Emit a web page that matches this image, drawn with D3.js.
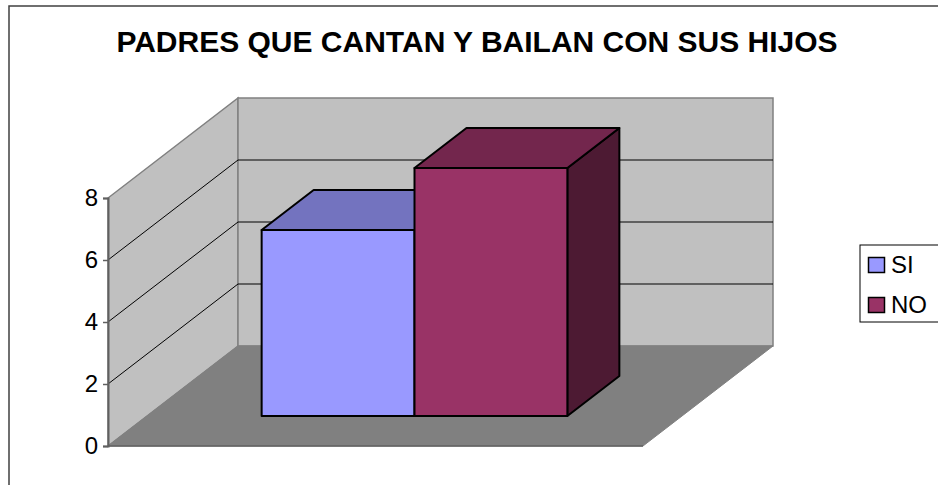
<!DOCTYPE html>
<html>
<head>
<meta charset="utf-8">
<script src="https://cdn.jsdelivr.net/npm/d3@7"></script>
<style>
  body { margin: 0; background: #fff; }
  svg { display: block; font-family: Arial, "Liberation Sans", sans-serif; }
</style>
</head>
<body>
<div class="grafico"></div>
<script>
// datos del grafico
const titulo = "PADRES QUE CANTAN Y BAILAN CON SUS HIJOS";
const series = ["SI", "NO"];
const valores = [6, 8];
const ticksY = [0, 2, 4, 6, 8];
const colores = [
  { frente: "#9999FF", arriba: "#7373BF", lado: "#4D4D80" },
  { frente: "#993366", arriba: "#73264D", lado: "#4D1A33" }
];

const width = 938, height = 485;

const svg = d3.select(".grafico")
  .append("svg")
  .attr("width", width)
  .attr("height", height);

// borde del area del grafico
svg.append("rect")
  .attr("x", 9).attr("y", 6)
  .attr("width", 945).attr("height", 500)
  .attr("fill", "#fff")
  .attr("stroke", "#404040")
  .attr("stroke-width", 1.5);

// escalas (plano frontal) y profundidad
const x0 = 108, anchoPiso = 535;
const prof = { dx: 130, dy: -100 };

const yScale = d3.scaleLinear()
  .domain([0, 8])
  .range([446, 198]);

const xScale = d3.scaleBand()
  .domain(series)
  .range([x0, x0 + anchoPiso])
  .paddingInner(0)
  .paddingOuter(0.75);

const zScale = d3.scaleBand()
  .domain(["z"])
  .range([0, 1])
  .paddingOuter(0.75);

function p(x, y, d) {
  return [x + prof.dx * d, y + prof.dy * d];
}
function poly(puntos) {
  return puntos.map(q => q.join(",")).join(" ");
}

const y0 = yScale(0), yMax = yScale(8);
const xEnd = x0 + anchoPiso;

// paredes y piso
svg.append("polygon")
  .attr("points", poly([p(x0, y0, 0), p(x0, yMax, 0), p(x0, yMax, 1), p(x0, y0, 1)]))
  .attr("fill", "#C0C0C0").attr("stroke", "#808080").attr("stroke-width", 1.5);

svg.append("polygon")
  .attr("points", poly([p(x0, yMax, 1), p(xEnd, yMax, 1), p(xEnd, y0, 1), p(x0, y0, 1)]))
  .attr("fill", "#C0C0C0").attr("stroke", "#808080").attr("stroke-width", 1.5);

svg.append("polygon")
  .attr("points", poly([p(x0, y0, 0), p(xEnd, y0, 0), p(xEnd, y0, 1), p(x0, y0, 1)]))
  .attr("fill", "#808080").attr("stroke", "#808080").attr("stroke-width", 1);

// lineas de division
ticksY.filter(v => v > 0 && v < 8).forEach(v => {
  const y = yScale(v);
  svg.append("polyline")
    .attr("points", poly([p(x0, y, 0), p(x0, y, 1), p(xEnd, y, 1)]))
    .attr("fill", "none")
    .attr("stroke", "#000")
    .attr("stroke-width", 1);
});

// borde frontal del piso
svg.append("line")
  .attr("x1", x0).attr("y1", y0)
  .attr("x2", xEnd).attr("y2", y0)
  .attr("stroke", "#606060").attr("stroke-width", 1.5);

// barras 3D
const dA = zScale("z"), dB = zScale("z") + zScale.bandwidth();
series.forEach((s, i) => {
  const xa = xScale(s), xb = xa + xScale.bandwidth();
  const yt = yScale(valores[i]);
  const g = svg.append("g")
    .attr("stroke", "#000")
    .attr("stroke-width", 2)
    .attr("stroke-linejoin", "round");
  g.append("polygon")
    .attr("points", poly([p(xb, y0, dA), p(xb, y0, dB), p(xb, yt, dB), p(xb, yt, dA)]))
    .attr("fill", colores[i].lado);
  g.append("polygon")
    .attr("points", poly([p(xa, yt, dA), p(xa, yt, dB), p(xb, yt, dB), p(xb, yt, dA)]))
    .attr("fill", colores[i].arriba);
  g.append("polygon")
    .attr("points", poly([p(xa, y0, dA), p(xa, yt, dA), p(xb, yt, dA), p(xb, y0, dA)]))
    .attr("fill", colores[i].frente);
});

// eje Y
const ejeY = svg.append("g")
  .attr("transform", "translate(" + x0 + ",0)")
  .call(d3.axisLeft(yScale).tickValues(ticksY).tickSize(5).tickPadding(5).tickFormat(d3.format("d")));
ejeY.select(".domain").attr("stroke", "#606060").attr("stroke-width", 2);
ejeY.selectAll(".tick line").attr("stroke", "#606060").attr("stroke-width", 1.5);
ejeY.selectAll(".tick text")
  .attr("font-size", 24)
  .attr("font-family", "Arial, 'Liberation Sans', sans-serif")
  .attr("fill", "#000");

// titulo
svg.append("text")
  .attr("x", 477)
  .attr("y", 52)
  .attr("text-anchor", "middle")
  .attr("font-size", 30)
  .attr("font-weight", "bold")
  .attr("fill", "#000")
  .text(titulo);

// leyenda
const leyenda = svg.append("g").attr("transform", "translate(860,245)");
leyenda.append("rect")
  .attr("x", 0).attr("y", 0)
  .attr("width", 100).attr("height", 77)
  .attr("fill", "#fff")
  .attr("stroke", "#000")
  .attr("stroke-width", 1);

series.forEach((s, i) => {
  const fila = leyenda.append("g").attr("transform", "translate(0," + (i * 40) + ")");
  fila.append("rect")
    .attr("x", 8.5).attr("y", 12.5)
    .attr("width", 16).attr("height", 15)
    .attr("fill", colores[i].frente)
    .attr("stroke", "#000")
    .attr("stroke-width", 1.5);
  fila.append("text")
    .attr("x", 31)
    .attr("y", 28)
    .attr("font-size", 24)
    .attr("fill", "#000")
    .text(s);
});
</script>
</body>
</html>
